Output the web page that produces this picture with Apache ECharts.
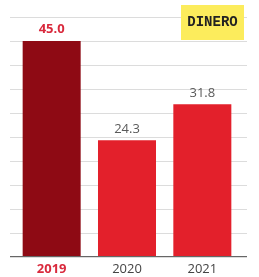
<!DOCTYPE html>
<html>
<head>
<meta charset="utf-8">
<script src="https://cdn.jsdelivr.net/npm/echarts@6/dist/echarts.min.js"></script>
<style>
  html, body { margin: 0; padding: 0; background: #fff; }
  #main { width: 259px; height: 277px; }
</style>
</head>
<body>
<div id="main"></div>
<script>
// datos del grafico
const years = ['2019', '2020', '2021']
const values = [45.0, 24.3, 31.8]
const highlight = '2019'

const chart = echarts.init(document.getElementById('main'))

const darkRed = '#8e0a14'
const red = '#e3202b'
const labelRed = '#d92a3d'
const gray = '#5a5a5a'

chart.setOption({
  animation: false,
  grid: [
    // barras
    { left: 14, right: 19, top: 17, bottom: 20 },
    // solo lineas de fondo, mas anchas
    { left: 10, right: 12, top: 17, bottom: 20 }
  ],
  xAxis: [
    {
      type: 'category',
      gridIndex: 0,
      data: years,
      axisTick: { show: false },
      axisLine: { show: false },
      axisLabel: {
        interval: 0,
        margin: 6,
        fontFamily: 'Open Sans',
        fontSize: 13,
        color: '#444',
        formatter: (v) => v === highlight ? '{hl|' + v + '}' : v,
        rich: {
          hl: { fontFamily: 'Open Sans', fontSize: 13, fontWeight: 'bold', color: labelRed }
        }
      }
    },
    {
      type: 'category',
      gridIndex: 1,
      data: [''],
      show: false
    }
  ],
  yAxis: [
    {
      type: 'value',
      gridIndex: 0,
      min: 0,
      max: 50,
      interval: 5,
      show: false
    },
    {
      type: 'value',
      gridIndex: 1,
      min: 0,
      max: 50,
      interval: 5,
      axisLabel: { show: false },
      axisTick: { show: false },
      axisLine: { show: false },
      splitLine: { show: true, lineStyle: { color: '#dcdcdc', width: 1 } }
    }
  ],
  graphic: [
    {
      type: 'line',
      shape: { x1: 10, y1: 256.5, x2: 247, y2: 256.5 },
      style: { stroke: '#666', lineWidth: 1 },
      z: 10
    },
    {
      type: 'rect',
      shape: { x: 181, y: 5, width: 63, height: 35 },
      style: { fill: '#fcec5c' },
      z: 20
    },
    {
      type: 'text',
      x: 212.5,
      y: 22,
      style: {
        text: 'DINERO',
        font: 'bold 14px "Liberation Mono"',
        fill: '#222',
        align: 'center',
        verticalAlign: 'middle'
      },
      z: 21
    }
  ],
  series: [
    {
      type: 'bar',
      xAxisIndex: 0,
      yAxisIndex: 0,
      barWidth: '77%',
      z: 5,
      data: values.map((v, i) => ({
        value: v,
        itemStyle: { color: years[i] === highlight ? darkRed : red },
        label: years[i] === highlight
          ? { color: labelRed, fontWeight: 'bold' }
          : { color: gray, fontWeight: 'normal' }
      })),
      label: {
        show: true,
        position: 'top',
        distance: 5,
        fontFamily: 'Open Sans',
        fontSize: 13,
        formatter: (p) => p.value.toFixed(1)
      }
    }
  ]
})
</script>
</body>
</html>
